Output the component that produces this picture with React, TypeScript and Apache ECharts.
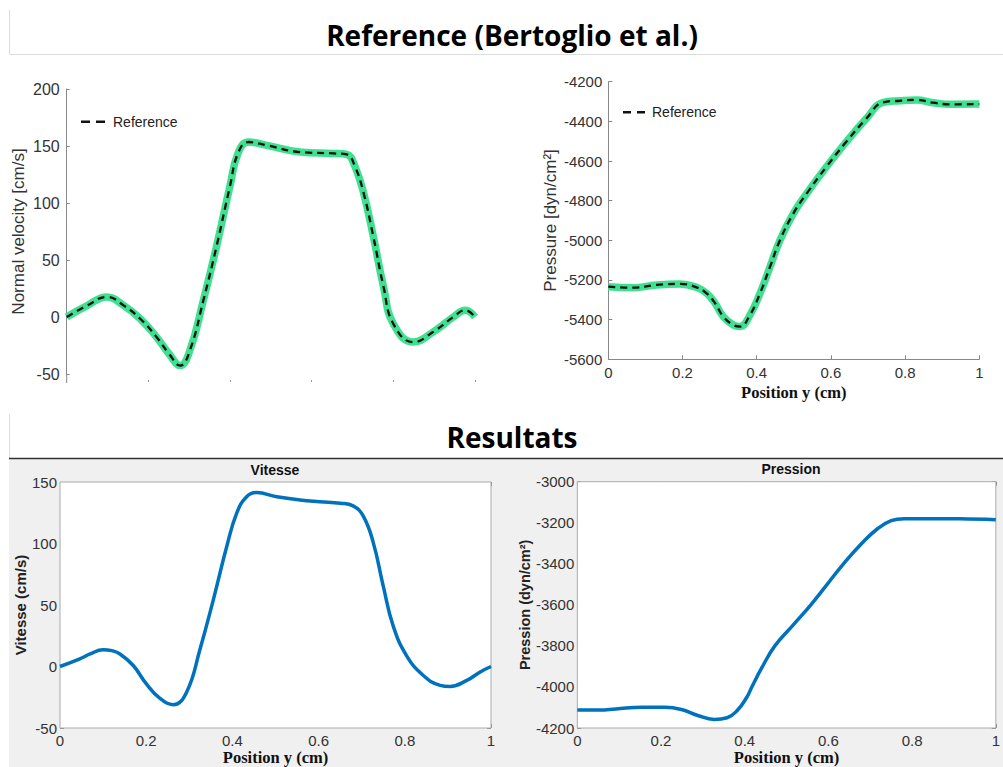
import React, { useEffect, useRef } from "react";
import * as echarts from "echarts";

// ---- Data ----
const refVelX = [0, 0.05, 0.098, 0.14, 0.18, 0.22, 0.25, 0.278, 0.302, 0.335, 0.367, 0.4, 0.42, 0.445, 0.49, 0.571, 0.653, 0.686, 0.706, 0.727, 0.751, 0.776, 0.8, 0.849, 0.898, 0.947, 0.976, 1.0];
const refVel = [0, 10, 17.6, 10, -1.5, -17.6, -32, -42.6, -29, 15, 62, 115, 144, 153.5, 150.6, 144.7, 143.5, 142.6, 132, 109, 70.6, 26.5, -6, -22, -13, 0, 6, 0];

const refPresX = [0, 0.067, 0.13, 0.193, 0.238, 0.265, 0.288, 0.31, 0.337, 0.355, 0.382, 0.409, 0.436, 0.463, 0.499, 0.535, 0.588, 0.642, 0.696, 0.741, 0.786, 0.831, 0.876, 0.921, 1.0];
const refPres = [-5234, -5239, -5225, -5220, -5237, -5267, -5318, -5385, -5427, -5435, -5376, -5267, -5133, -4998, -4864, -4763, -4629, -4502, -4385, -4304, -4296, -4292, -4306, -4314, -4313];

const simVelX = [0, 0.046, 0.07, 0.1, 0.12, 0.14, 0.17, 0.2, 0.232, 0.263, 0.294, 0.325, 0.356, 0.387, 0.41, 0.433, 0.456, 0.503, 0.557, 0.603, 0.65, 0.68, 0.704, 0.727, 0.75, 0.773, 0.804, 0.843, 0.882, 0.905, 0.944, 0.974, 1.0];
const simVel = [0, 6.2, 10.2, 13.7, 12.9, 10, 0.8, -14, -26, -31, -20.7, 14.3, 54.6, 97.7, 124.7, 138, 141.4, 138, 135.4, 134, 132.8, 130.6, 122, 100.5, 65.4, 33, 8.9, -7.3, -15.3, -16.2, -11.3, -4.6, 0];

const simPresX = [0, 0.053, 0.092, 0.155, 0.21, 0.249, 0.288, 0.327, 0.358, 0.382, 0.405, 0.417, 0.44, 0.472, 0.515, 0.558, 0.597, 0.636, 0.68, 0.718, 0.75, 0.781, 0.836, 0.914, 1.0];
const simPres = [-4112, -4112, -4107, -4099, -4099, -4110, -4139, -4158, -4150, -4115, -4050, -4000, -3910, -3800, -3700, -3600, -3500, -3400, -3300, -3228, -3190, -3180, -3180, -3181, -3185];

const titleTop = "Reference (Bertoglio et al.)";
const titleBottom = "Resultats";
const legendLabel = "Reference";

const pairs = (xs: number[], ys: number[]) => xs.map((x, i) => [x, ys[i]]);

const SANS = "Liberation Sans, Arial, sans-serif";
const SERIF = "Liberation Serif, Times New Roman, serif";
const TITLE = "Open Sans, Liberation Sans, sans-serif";
const GREEN = "#3fe08f";
const BLUE = "#0072bd";
const plain = (v: number) => String(Math.round(v * 1000) / 1000);

export default function App() {
  const ref = useRef<HTMLDivElement>(null);
  useEffect(() => {
    if (!ref.current) return;
    const chart = echarts.init(ref.current, null, { renderer: "svg" });

    const labelTop = { color: "#333", fontSize: 15, fontFamily: SANS, formatter: plain };
    const labelBot = { color: "#333", fontSize: 15, fontFamily: SANS, formatter: plain };
    const nameTop = { color: "#333", fontSize: 17, fontFamily: SANS };
    const nameBotY = { color: "#222", fontSize: 15, fontWeight: "bold", fontFamily: SANS };
    const nameX = { color: "#111", fontSize: 16.5, fontWeight: "bold", fontFamily: SERIF };
    const tickIn = { show: true, inside: true, length: 4, lineStyle: { color: "#888" } };
    const noLine = { show: false, onZero: false };
    const smooth = { smooth: 0.45, showSymbol: false };

    const option: any = {
      animation: false,
      backgroundColor: "#fff",
      grid: [
        { left: 66.7, top: 89, width: 408.3, height: 285 },
        { left: 608.3, top: 81.7, width: 371, height: 277.6 },
        { left: 60, top: 482, width: 431, height: 248, show: true, backgroundColor: "#fff", borderColor: "#aaa", borderWidth: 1, z: 2 },
        { left: 577.3, top: 481.7, width: 427, height: 249.3, show: true, backgroundColor: "#fff", borderColor: "#aaa", borderWidth: 1, z: 2 },
      ],
      xAxis: [
        { gridIndex: 0, type: "value", min: 0, max: 1, interval: 0.2, offset: 8, axisLine: noLine, axisTick: { show: true, inside: true, length: 2, lineStyle: { color: "#999" } }, axisLabel: { show: false }, splitLine: { show: false } },
        { gridIndex: 1, type: "value", min: 0, max: 1, interval: 0.2, axisLine: { show: true, onZero: false, lineStyle: { color: "#888", width: 1 } }, axisTick: tickIn, axisLabel: { ...labelTop, margin: 6 }, splitLine: { show: false }, name: "Position y (cm)", nameLocation: "middle", nameGap: 25, nameTextStyle: nameX },
        { gridIndex: 2, type: "value", min: 0, max: 1, interval: 0.2, axisLine: noLine, axisTick: tickIn, axisLabel: { ...labelBot, margin: 5 }, splitLine: { show: false }, name: "Position y (cm)", nameLocation: "middle", nameGap: 21, nameTextStyle: nameX },
        { gridIndex: 2, type: "value", position: "top", min: 0, max: 1, interval: 0.2, axisLine: noLine, axisTick: tickIn, axisLabel: { show: false }, splitLine: { show: false } },
        { gridIndex: 3, type: "value", min: 0, max: 1, interval: 0.2, axisLine: noLine, axisTick: tickIn, axisLabel: { ...labelBot, margin: 5 }, splitLine: { show: false }, name: "Position y (cm)", nameLocation: "middle", nameGap: 21, nameTextStyle: nameX },
        { gridIndex: 3, type: "value", position: "top", min: 0, max: 1, interval: 0.2, axisLine: noLine, axisTick: tickIn, axisLabel: { show: false }, splitLine: { show: false } },
      ],
      yAxis: [
        { gridIndex: 0, type: "value", min: -50, max: 200, interval: 50, axisLine: { show: true, onZero: false, lineStyle: { color: "#888", width: 1 } }, axisTick: { show: true, inside: true, length: 3, lineStyle: { color: "#888" } }, axisLabel: { ...labelTop, fontSize: 16, margin: 7 }, splitLine: { show: false }, name: "Normal velocity [cm/s]", nameLocation: "middle", nameGap: 40, nameTextStyle: nameTop },
        { gridIndex: 1, type: "value", min: -5600, max: -4200, interval: 200, axisLine: { show: true, onZero: false, lineStyle: { color: "#888", width: 1 } }, axisTick: tickIn, axisLabel: { ...labelTop, margin: 6 }, splitLine: { show: false }, name: "Pressure [dyn/cm²]", nameLocation: "middle", nameGap: 49, nameTextStyle: nameTop },
        { gridIndex: 2, type: "value", min: -50, max: 150, interval: 50, axisLine: noLine, axisTick: tickIn, axisLabel: { ...labelBot, margin: 3 }, splitLine: { show: false }, name: "Vitesse (cm/s)", nameLocation: "middle", nameGap: 30, nameTextStyle: nameBotY },
        { gridIndex: 2, type: "value", position: "right", min: -50, max: 150, interval: 50, axisLine: noLine, axisTick: tickIn, axisLabel: { show: false }, splitLine: { show: false } },
        { gridIndex: 3, type: "value", min: -4200, max: -3000, interval: 200, axisLine: noLine, axisTick: tickIn, axisLabel: { ...labelBot, margin: 3 }, splitLine: { show: false }, name: "Pression (dyn/cm²)", nameLocation: "middle", nameGap: 43, nameTextStyle: { ...nameBotY, fontSize: 14.5 } },
        { gridIndex: 3, type: "value", position: "right", min: -4200, max: -3000, interval: 200, axisLine: noLine, axisTick: tickIn, axisLabel: { show: false }, splitLine: { show: false } },
      ],
      series: [
        { type: "line", name: "Reference (green)", xAxisIndex: 0, yAxisIndex: 0, data: pairs(refVelX, refVel), ...smooth, lineStyle: { color: GREEN, width: 7.5 }, z: 3 },
        { type: "line", name: "Reference", xAxisIndex: 0, yAxisIndex: 0, data: pairs(refVelX, refVel), ...smooth, lineStyle: { color: "#111", width: 2.3, type: [7, 5] }, z: 4 },
        { type: "line", name: "Reference (green)", xAxisIndex: 1, yAxisIndex: 1, data: pairs(refPresX, refPres), ...smooth, lineStyle: { color: GREEN, width: 7.5 }, z: 3 },
        { type: "line", name: "Reference", xAxisIndex: 1, yAxisIndex: 1, data: pairs(refPresX, refPres), ...smooth, lineStyle: { color: "#111", width: 2.3, type: [7, 5] }, z: 4 },
        { type: "line", name: "Vitesse", xAxisIndex: 2, yAxisIndex: 2, data: pairs(simVelX, simVel), ...smooth, lineStyle: { color: BLUE, width: 3.5 }, z: 4 },
        { type: "line", name: "Pression", xAxisIndex: 4, yAxisIndex: 4, data: pairs(simPresX, simPres), ...smooth, lineStyle: { color: BLUE, width: 3.5 }, z: 4 },
      ],
      graphic: [
        // section frames
        { type: "line", z: 0, shape: { x1: 9.5, y1: 10, x2: 9.5, y2: 54.5 }, style: { stroke: "#ddd", lineWidth: 1 } },
        { type: "line", z: 0, shape: { x1: 9.5, y1: 54.5, x2: 1003, y2: 54.5 }, style: { stroke: "#ddd", lineWidth: 1 } },
        { type: "line", z: 0, shape: { x1: 9.5, y1: 414, x2: 9.5, y2: 458 }, style: { stroke: "#ddd", lineWidth: 1 } },
        { type: "rect", z: -10, shape: { x: 9, y: 459, width: 994, height: 308 }, style: { fill: "#f0f0f0" } },
        { type: "line", z: 0, shape: { x1: 9, y1: 458.5, x2: 1003, y2: 458.5 }, style: { stroke: "#333", lineWidth: 1.5 } },
        // extension of top-left y-axis line below the last tick
        { type: "line", z: 0, shape: { x1: 66.7, y1: 374, x2: 66.7, y2: 383 }, style: { stroke: "#888", lineWidth: 1 } },
        // titles
        { type: "text", x: 512, y: 35, style: { text: titleTop, font: `bold 28px ${TITLE}`, fill: "#000", textAlign: "center", textVerticalAlign: "middle", align: "center", verticalAlign: "middle" } },
        { type: "text", x: 512, y: 437, style: { text: titleBottom, font: `bold 28px ${TITLE}`, fill: "#000", textAlign: "center", textVerticalAlign: "middle", align: "center", verticalAlign: "middle" } },
        { type: "text", z: 10, x: 275, y: 470, style: { text: "Vitesse", font: `bold 14px ${SANS}`, fill: "#111", textAlign: "center", textVerticalAlign: "middle", align: "center", verticalAlign: "middle" } },
        { type: "text", z: 10, x: 791, y: 469, style: { text: "Pression", font: `bold 14px ${SANS}`, fill: "#111", textAlign: "center", textVerticalAlign: "middle", align: "center", verticalAlign: "middle" } },
        // legends
        { type: "line", z: 10, shape: { x1: 81, y1: 121.7, x2: 105, y2: 121.7 }, style: { stroke: "#111", lineWidth: 2.5, lineDash: [9, 6] } },
        { type: "text", z: 10, x: 113, y: 121.7, style: { text: legendLabel, font: `14px ${SANS}`, fill: "#222", textAlign: "left", textVerticalAlign: "middle", align: "left", verticalAlign: "middle" } },
        { type: "line", z: 10, shape: { x1: 623, y1: 112.3, x2: 645, y2: 112.3 }, style: { stroke: "#111", lineWidth: 2.5, lineDash: [8, 6] } },
        { type: "text", z: 10, x: 652, y: 112.3, style: { text: legendLabel, font: `14px ${SANS}`, fill: "#222", textAlign: "left", textVerticalAlign: "middle", align: "left", verticalAlign: "middle" } },
      ],
    };
    chart.setOption(option);
    return () => chart.dispose();
  }, []);

  return <div ref={ref} style={{ position: "absolute", left: 0, top: 0, width: 1003, height: 767 }} />;
}
